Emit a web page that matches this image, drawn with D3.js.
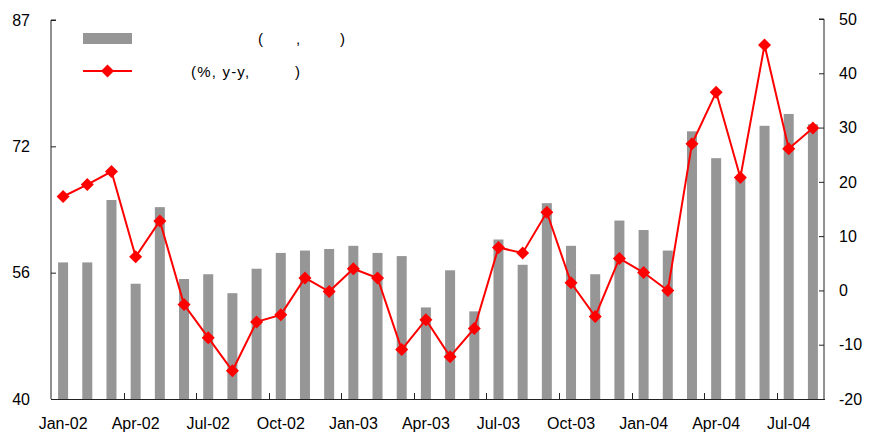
<!DOCTYPE html>
<html>
<head>
<meta charset="utf-8">
<script src="https://cdn.jsdelivr.net/npm/d3@7"></script>
<style>
  html, body { margin: 0; padding: 0; background: #fff; }
  svg { display: block; }
  text { font-family: "Liberation Sans", Arial, sans-serif; fill: #000; }
</style>
</head>
<body>
<svg id="chart" width="870" height="437"></svg>
<script>
const categories = ["Jan-02","Feb-02","Mar-02","Apr-02","May-02","Jun-02","Jul-02","Aug-02","Sep-02","Oct-02","Nov-02","Dec-02",
  "Jan-03","Feb-03","Mar-03","Apr-03","May-03","Jun-03","Jul-03","Aug-03","Sep-03","Oct-03","Nov-03","Dec-03",
  "Jan-04","Feb-04","Mar-04","Apr-04","May-04","Jun-04","Jul-04","Aug-04"];
const barValues = [57.3,57.3,65.2,54.6,64.3,55.2,55.8,53.4,56.5,58.5,58.8,59.0,
  59.4,58.5,58.1,51.6,56.3,51.1,60.2,57.0,64.8,59.4,55.8,62.6,
  61.4,58.8,73.9,70.5,67.9,74.6,76.1,74.8];
const lineValues = [17.3,19.5,21.9,6.2,12.8,-2.6,-8.7,-14.8,-5.8,-4.5,2.3,-0.2,
  4.0,2.3,-10.9,-5.4,-12.2,-7.0,7.9,6.9,14.4,1.4,-4.8,5.9,
  3.3,0.0,27.0,36.5,20.8,45.2,26.1,29.9];
const leftTicks = [40, 56, 72, 88];
const leftTickLabels = ["40", "56", "72", "87"];
const rightTicks = [-20,-10,0,10,20,30,40,50];
const legendBar = ["(", ",", ")"];
const legendLine = ["(%, y-y,", ")"];

const svg = d3.select("#chart");
const X0 = 51, X1 = 825, YB = 399, YT = 20;
const barColor = "#969696", lineColor = "#FF0000", axisColor = "#222";

const x = d3.scaleBand().domain(categories).range([X0, X1]).padding(0);
const yL = d3.scaleLinear().domain([40, 88]).range([YB, YT]);
const yR = d3.scaleLinear().domain([-20, 50]).range([YB, 19]);
const bw = 10;

// bars
svg.append("g").selectAll("rect").data(categories).join("rect")
  .attr("x", d => x(d) + x.bandwidth()/2 - bw/2)
  .attr("y", (d,i) => yL(barValues[i]))
  .attr("width", bw)
  .attr("height", (d,i) => YB - yL(barValues[i]))
  .attr("fill", barColor);

// left axis
const gL = svg.append("g").attr("transform", `translate(${X0},0)`)
  .call(d3.axisRight(yL).tickValues(leftTicks).tickSize(5).tickFormat(() => ""));
gL.select(".domain").attr("stroke", axisColor).attr("d", `M5,${YT}H0V${YB}`);
gL.selectAll(".tick line").attr("stroke", axisColor);
svg.append("g").selectAll("text").data(leftTicks).join("text")
  .attr("x", 30).attr("y", d => yL(d)).attr("dy", "0.36em")
  .attr("text-anchor", "end").attr("font-size", 16)
  .text((d,i) => leftTickLabels[i]);

// right axis
const gR = svg.append("g").attr("transform", `translate(${X1 - 1},0)`)
  .call(d3.axisLeft(yR).tickValues(rightTicks).tickSize(5).tickFormat(() => ""));
gR.select(".domain").attr("stroke", axisColor).attr("d", `M-5,19H0V${YB}`);
gR.selectAll(".tick line").attr("stroke", axisColor);
svg.append("g").selectAll("text").data(rightTicks).join("text")
  .attr("x", 839).attr("y", d => yR(d)).attr("dy", "0.36em")
  .attr("text-anchor", "start").attr("font-size", 16)
  .text(d => d);

// bottom axis
const boundaries = d3.range(3, categories.length, 3);
svg.append("line").attr("x1", X0).attr("x2", X1).attr("y1", YB + 0.5).attr("y2", YB + 0.5)
  .attr("stroke", axisColor);
svg.append("g").selectAll("line").data(boundaries).join("line")
  .attr("x1", i => Math.round(X0 + i * x.step()) + 0.5)
  .attr("x2", i => Math.round(X0 + i * x.step()) + 0.5)
  .attr("y1", YB).attr("y2", YB - 6).attr("stroke", axisColor);
svg.append("g").selectAll("text").data(categories.filter((d,i) => i % 3 === 0)).join("text")
  .attr("x", d => x(d) + x.bandwidth()/2).attr("y", 429)
  .attr("text-anchor", "middle").attr("font-size", 16)
  .text(d => d);

// line
const pts = categories.map((c,i) => [x(c) + x.bandwidth()/2, yR(lineValues[i])]);
svg.append("path").attr("d", d3.line()(pts))
  .attr("fill", "none").attr("stroke", lineColor).attr("stroke-width", 2);
const diamond = "M0,-6.5L6.5,0L0,6.5L-6.5,0Z";
svg.append("g").selectAll("path").data(pts).join("path")
  .attr("transform", d => `translate(${d[0]},${d[1]})`)
  .attr("d", diamond).attr("fill", lineColor);

// legend
svg.append("rect").attr("x", 83).attr("y", 33).attr("width", 49).attr("height", 11).attr("fill", barColor);
svg.append("line").attr("x1", 83).attr("x2", 132).attr("y1", 71).attr("y2", 71)
  .attr("stroke", lineColor).attr("stroke-width", 2);
svg.append("path").attr("transform", "translate(107.5,71)").attr("d", diamond).attr("fill", lineColor);
const lb = [258, 296, 340];
legendBar.forEach((t,i) => svg.append("text").attr("x", lb[i]).attr("y", 44).attr("font-size", 15).text(t));
const ll = [191, 295];
legendLine.forEach((t,i) => svg.append("text").attr("x", ll[i]).attr("y", 77).attr("font-size", 15)
  .attr("letter-spacing", i === 0 ? 1.2 : 0).text(t));
</script>
</body>
</html>
